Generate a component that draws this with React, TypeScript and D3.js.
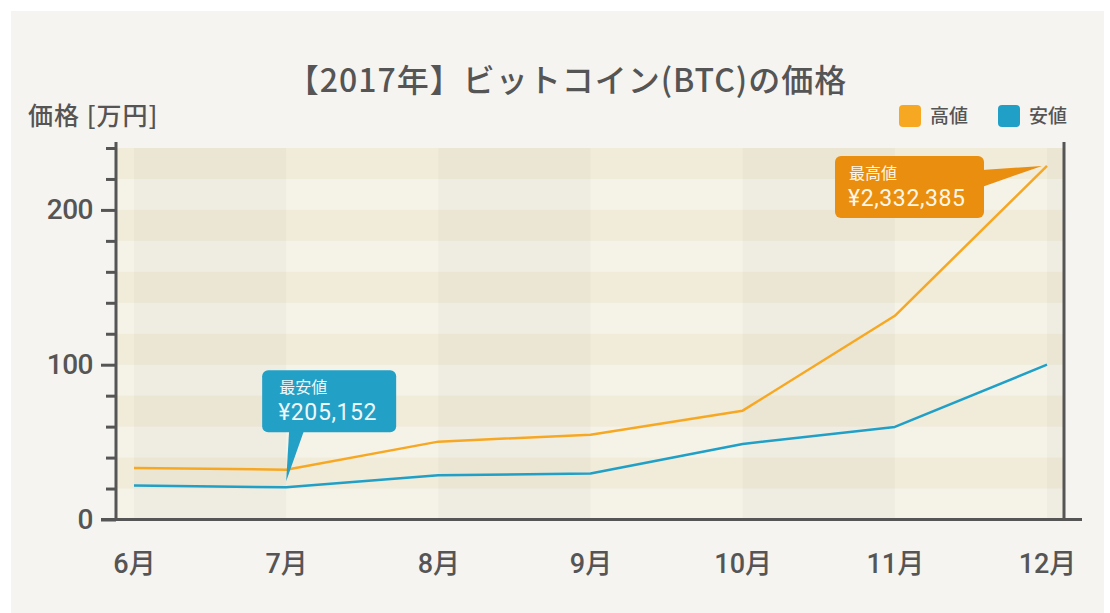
import { useEffect, useRef } from "react";
import * as d3 from "d3";

// prices in 万円
const months = ["6月", "7月", "8月", "9月", "10月", "11月", "12月"];
const highValues = [33.3, 32.2, 50.3, 54.8, 70.3, 131.6, 228.4];
const lowValues = [21.9, 20.8, 28.6, 29.7, 48.8, 59.8, 100.0];
const majorTicks = [0, 100, 200];
const minorTicks = [20, 40, 60, 80, 120, 140, 160, 180, 220, 240];

const seriesNames = ["高値", "安値"];
const seriesColors = ["#f7a823", "#209fc7"];

const W = 1110;
const H = 613;
const JP = "'Noto Sans CJK JP', sans-serif";
const NUM = "Roboto, 'Noto Sans CJK JP', sans-serif";

export default function App() {
  const svgRef = useRef<SVGSVGElement>(null);

  useEffect(() => {
    if (!svgRef.current) return;
    const svg = d3.select(svgRef.current);
    svg.selectAll("*").remove();

    const plot = { left: 116, right: 1064, top: 148, bottom: 519.5 };

    const x = d3.scalePoint<string>().domain(months).range([134, 1047]);
    const y = d3.scaleLinear().domain([0, 240]).range([plot.bottom, plot.top]);

    // panel
    svg.append("rect").attr("width", W).attr("height", H).attr("fill", "#ffffff");
    svg
      .append("rect")
      .attr("x", 11)
      .attr("y", 11)
      .attr("width", 1093)
      .attr("height", H - 11)
      .attr("fill", "#f5f4f0");

    // plot background
    svg
      .append("rect")
      .attr("x", plot.left)
      .attr("y", plot.top)
      .attr("width", plot.right - plot.left)
      .attr("height", plot.bottom - plot.top)
      .attr("fill", "#f5f3e8");

    const bandStarts = d3.range(0, 240, 20);
    svg
      .append("g")
      .selectAll("rect")
      .data(bandStarts.filter((v) => ((240 - v - 20) / 20) % 2 === 0))
      .enter()
      .append("rect")
      .attr("x", plot.left)
      .attr("width", plot.right - plot.left)
      .attr("y", (v) => y(v + 20))
      .attr("height", (v) => y(v) - y(v + 20))
      .attr("fill", "rgb(225,205,160)")
      .attr("opacity", 0.2);

    // vertical columns between months, alternating
    const cols = d3.range(-1, months.length).map((i) => {
      const x0 = i < 0 ? plot.left : x(months[i])!;
      const x1 = i + 1 < months.length ? x(months[i + 1])! : plot.right;
      return { x0, x1, grey: (i + 2) % 2 === 0 };
    });
    svg
      .append("g")
      .selectAll("rect")
      .data(cols.filter((c) => c.grey))
      .enter()
      .append("rect")
      .attr("x", (c) => c.x0)
      .attr("width", (c) => Math.min(c.x1, plot.right) - c.x0)
      .attr("y", plot.top)
      .attr("height", plot.bottom - plot.top)
      .attr("fill", "#000")
      .attr("opacity", 0.025);

    // lines
    const line = d3
      .line<number>()
      .x((_, i) => x(months[i])!)
      .y((d) => y(d));
    [highValues, lowValues].forEach((vals, k) => {
      svg
        .append("path")
        .datum(vals)
        .attr("d", line)
        .attr("fill", "none")
        .attr("stroke", seriesColors[k])
        .attr("stroke-width", 2.5)
        .attr("stroke-linejoin", "round");
    });

    // axes
    const axisColor = "#555555";
    const yMinor = svg
      .append("g")
      .attr("transform", `translate(${plot.left},0)`)
      .call(d3.axisLeft(y).tickValues(minorTicks).tickSize(10).tickFormat(() => ""));
    const yMajor = svg
      .append("g")
      .attr("transform", `translate(${plot.left},0)`)
      .call(d3.axisLeft(y).tickValues(majorTicks).tickSize(15).tickPadding(8));
    [yMinor, yMajor].forEach((g) => {
      g.select(".domain").remove();
      g.selectAll("line").attr("stroke", axisColor).attr("stroke-width", 3);
    });
    yMajor
      .selectAll("text")
      .attr("fill", "#555")
      .attr("font-family", NUM)
      .attr("font-size", 28)
      .attr("font-weight", 500)
      .attr("letter-spacing", -0.5);

    const xAxis = svg
      .append("g")
      .attr("transform", `translate(0,${plot.bottom})`)
      .call(d3.axisBottom(x).tickSize(0).tickPadding(34));
    xAxis.select(".domain").remove();
    xAxis
      .selectAll("text")
      .attr("fill", "#555")
      .attr("font-family", NUM)
      .attr("font-size", 27)
      .attr("font-weight", 500);

    svg
      .append("line")
      .attr("x1", plot.left)
      .attr("x2", plot.left)
      .attr("y1", 142)
      .attr("y2", plot.bottom + 1.5)
      .attr("stroke", axisColor)
      .attr("stroke-width", 3);
    svg
      .append("line")
      .attr("x1", plot.right)
      .attr("x2", plot.right)
      .attr("y1", 142)
      .attr("y2", plot.bottom + 1.5)
      .attr("stroke", axisColor)
      .attr("stroke-width", 3);
    svg
      .append("line")
      .attr("x1", 101)
      .attr("x2", 1082)
      .attr("y1", plot.bottom)
      .attr("y2", plot.bottom)
      .attr("stroke", axisColor)
      .attr("stroke-width", 3);

    // title & axis title
    svg
      .append("text")
      .attr("x", 567)
      .attr("y", 92)
      .attr("text-anchor", "middle")
      .attr("font-family", JP)
      .attr("font-size", 32)
      .attr("font-weight", 500)
      .attr("letter-spacing", 1)
      .attr("fill", "#555")
      .text("【2017年】ビットコイン(BTC)の価格");
    svg
      .append("text")
      .attr("x", 28)
      .attr("y", 125)
      .attr("font-family", JP)
      .attr("font-size", 25)
      .attr("font-weight", 500)
      .attr("letter-spacing", 1)
      .attr("fill", "#555")
      .text("価格 [万円]");

    // legend
    const legendX = [899, 998];
    seriesNames.forEach((name, k) => {
      svg
        .append("rect")
        .attr("x", legendX[k])
        .attr("y", 105)
        .attr("width", 22)
        .attr("height", 22)
        .attr("rx", 4)
        .attr("fill", seriesColors[k]);
      svg
        .append("text")
        .attr("x", legendX[k] + 31)
        .attr("y", 123)
        .attr("font-family", JP)
        .attr("font-size", 19)
        .attr("font-weight", 500)
        .attr("fill", "#555")
        .text(name);
    });

    // callout: highest
    const hx = x(months[6])! - 5;
    const hy = y(highValues[6]);
    const hBox = { x: hx - 207, y: hy - 10, w: 149, h: 62 };
    const hc = svg.append("g");
    hc.append("rect")
      .attr("x", hBox.x)
      .attr("y", hBox.y)
      .attr("width", hBox.w)
      .attr("height", hBox.h)
      .attr("rx", 6)
      .attr("fill", "#e98e0e");
    hc.append("path")
      .attr(
        "d",
        `M${hBox.x + hBox.w - 2},${hBox.y + 14}L${hx},${hy}L${hBox.x + hBox.w - 2},${hBox.y + 31}Z`
      )
      .attr("fill", "#e98e0e");
    hc.append("text")
      .attr("x", hBox.x + 14)
      .attr("y", hBox.y + 23)
      .attr("font-family", JP)
      .attr("font-size", 16)
      .attr("fill", "#fff6e8")
      .text("最高値");
    hc.append("text")
      .attr("x", hBox.x + 13)
      .attr("y", hBox.y + 50)
      .attr("font-family", NUM)
      .attr("font-size", 23)
      .attr("letter-spacing", 0.6)
      .attr("fill", "#fff6e8")
      .text("¥2,332,385");

    // callout: lowest
    const lx = x(months[1])!;
    const ly = y(lowValues[1]) - 6;
    const lBox = { x: lx - 24, y: ly - 111, w: 134, h: 62 };
    const lc = svg.append("g");
    lc.append("rect")
      .attr("x", lBox.x)
      .attr("y", lBox.y)
      .attr("width", lBox.w)
      .attr("height", lBox.h)
      .attr("rx", 6)
      .attr("fill", "#22a0c6");
    lc.append("path")
      .attr(
        "d",
        `M${lBox.x + 27},${lBox.y + lBox.h - 2}L${lx},${ly}L${lBox.x + 42},${lBox.y + lBox.h - 2}Z`
      )
      .attr("fill", "#22a0c6");
    lc.append("text")
      .attr("x", lBox.x + 17)
      .attr("y", lBox.y + 23)
      .attr("font-family", JP)
      .attr("font-size", 16)
      .attr("fill", "#eef8fb")
      .text("最安値");
    lc.append("text")
      .attr("x", lBox.x + 16)
      .attr("y", lBox.y + 50)
      .attr("font-family", NUM)
      .attr("font-size", 23)
      .attr("letter-spacing", 0.6)
      .attr("fill", "#eef8fb")
      .text("¥205,152");
  }, []);

  return (
    <>
      <style>{`body{margin:0}`}</style>
      <svg ref={svgRef} width={W} height={H} style={{ display: "block" }} />
    </>
  );
}
